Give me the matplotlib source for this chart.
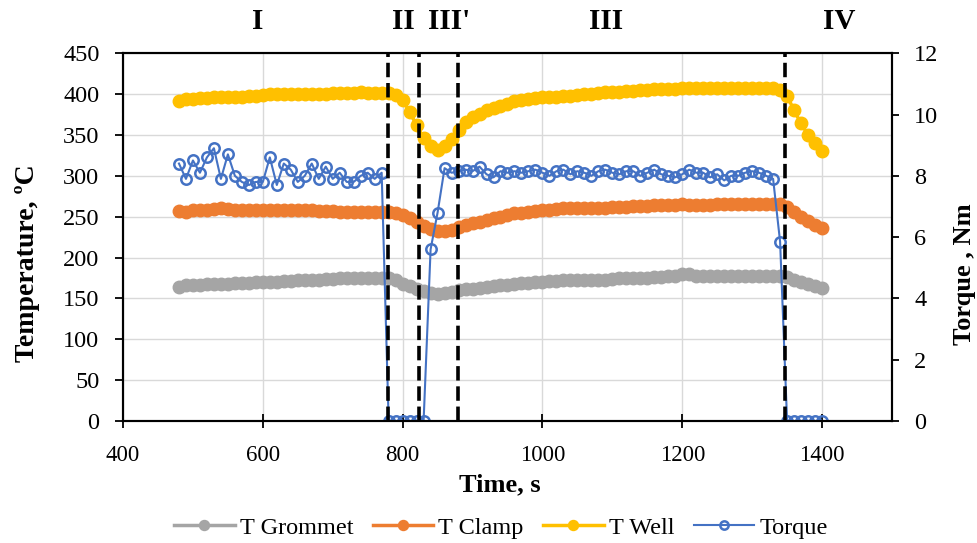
import matplotlib
matplotlib.use("Agg")
import matplotlib.pyplot as plt
import matplotlib.transforms as mtransforms

plt.rcParams['font.family'] = ['Liberation Serif', 'DejaVu Serif']

# sample times, s
time = [480, 490, 500, 510, 520, 530, 540, 550, 560, 570,
        580, 590, 600, 610, 620, 630, 640, 650, 660, 670,
        680, 690, 700, 710, 720, 730, 740, 750, 760, 770,
        780, 790, 800, 810, 820, 830, 840, 850, 860, 870,
        880, 890, 900, 910, 920, 930, 940, 950, 960, 970,
        980, 990, 1000, 1010, 1020, 1030, 1040, 1050, 1060, 1070,
        1080, 1090, 1100, 1110, 1120, 1130, 1140, 1150, 1160, 1170,
        1180, 1190, 1200, 1210, 1220, 1230, 1240, 1250, 1260, 1270,
        1280, 1290, 1300, 1310, 1320, 1330, 1340, 1350, 1360, 1370,
        1380, 1390, 1400]

t_grommet = [164, 166, 167, 167, 168, 168, 168, 168, 169, 169,
             169, 170, 170, 170, 170, 171, 171, 172, 172, 172,
             173, 174, 174, 175, 175, 175, 175, 175, 175, 175,
             175, 172, 168, 165, 162, 159, 157, 155, 156, 158,
             160, 161, 162, 163, 164, 165, 166, 167, 168, 169,
             169, 170, 170, 171, 171, 172, 172, 172, 172, 173,
             173, 173, 174, 175, 175, 175, 175, 175, 176, 176,
             177, 178, 180, 180, 178, 178, 178, 178, 178, 178,
             178, 178, 178, 178, 178, 178, 178, 176, 172, 170,
             168, 165, 163]

t_clamp = [257, 256, 258, 258, 258, 259, 260, 259, 258, 258,
           258, 258, 258, 258, 258, 258, 258, 258, 258, 258,
           257, 257, 257, 256, 256, 256, 256, 256, 256, 256,
           256, 255, 252, 248, 243, 238, 235, 233, 232, 234,
           237, 240, 242, 244, 246, 248, 250, 252, 254, 255,
           256, 257, 258, 258, 259, 260, 260, 261, 261, 261,
           261, 261, 262, 262, 262, 263, 263, 263, 264, 264,
           264, 264, 265, 264, 264, 264, 264, 265, 265, 265,
           265, 265, 265, 265, 265, 265, 265, 262, 256, 250,
           245, 240, 236]

t_well = [392, 394, 394, 395, 395, 396, 397, 397, 397, 397,
          398, 398, 399, 400, 400, 400, 400, 400, 400, 400,
          400, 400, 401, 401, 401, 401, 403, 401, 401, 401,
          401, 399, 393, 378, 362, 346, 336, 331, 336, 345,
          356, 366, 372, 376, 380, 383, 386, 388, 391, 393,
          394, 395, 396, 396, 397, 398, 398, 399, 400, 400,
          401, 402, 403, 403, 404, 404, 405, 405, 406, 406,
          406, 406, 407, 407, 407, 407, 407, 407, 407, 407,
          407, 407, 407, 407, 407, 407, 405, 398, 380, 364,
          350, 340, 330]

torque = [8.4, 7.9, 8.5, 8.1, 8.6, 8.9, 7.9, 8.7, 8.0, 7.8,
          7.7, 7.8, 7.8, 8.6, 7.7, 8.4, 8.2, 7.8, 8.0, 8.4,
          7.9, 8.3, 7.9, 8.1, 7.8, 7.8, 8.0, 8.1, 7.9, 8.1,
          0, 0, 0, 0, 0, 0, 5.6, 6.8, 8.25, 8.1,
          8.15, 8.2, 8.15, 8.3, 8.05, 7.95, 8.15, 8.1, 8.15, 8.1,
          8.15, 8.2, 8.1, 8.0, 8.15, 8.2, 8.05, 8.15, 8.1, 8.0,
          8.15, 8.2, 8.1, 8.05, 8.15, 8.15, 8.0, 8.1, 8.2, 8.05,
          8.0, 7.95, 8.05, 8.2, 8.1, 8.1, 7.95, 8.05, 7.85, 8.0,
          8.0, 8.1, 8.15, 8.1, 8.0, 7.9, 5.85, 0, 0, 0,
          0, 0, 0]

# stage boundaries and labels
stage_lines = [779, 824, 879, 1347]
stage_names = ['I', 'II', "III'", 'III', 'IV']
stage_pos = [593, 801, 867, 1091, 1424]

fig, ax = plt.subplots(figsize=(9.78, 5.43), dpi=100)
fig.subplots_adjust(left=0.1258, right=0.912, top=0.902, bottom=0.2247)
ax2 = ax.twinx()

ax.plot(time, t_grommet, '-o', color='#A5A5A5', lw=2.5, ms=9, label='T Grommet')
ax.plot(time, t_clamp, '-o', color='#ED7D31', lw=2.5, ms=9, label='T Clamp')
ax.plot(time, t_well, '-o', color='#FFC000', lw=2.5, ms=9, label='T Well')
ax2.plot(time, torque, '-o', color='#4472C4', lw=1.5, ms=7.5, mfc='none',
         mew=1.8, label='Torque')

for x in stage_lines:
    ax2.axvline(x, color='black', lw=2.6, dashes=(4, 1.6), zorder=5)

trans = mtransforms.blended_transform_factory(ax.transData, ax.transAxes)
for name, x in zip(stage_names, stage_pos):
    ax.text(x, 1.085, name, transform=trans, ha='center', va='center',
            fontsize=21, fontweight='bold')

ax.set_xlim(400, 1500)
ax.set_ylim(0, 450)
ax2.set_ylim(0, 12)
ax.set_xticks(range(400, 1401, 200))
ax.set_yticks(range(0, 451, 50))
ax2.set_yticks(range(0, 13, 2))

ax.grid(True, color='#D9D9D9', lw=1)
ax.set_axisbelow(True)
for a in (ax, ax2):
    for s in a.spines.values():
        s.set_color('black')
        s.set_linewidth(1.5)
ax.tick_params(axis='x', direction='inout', length=10, width=1.3, labelsize=16.5, pad=12)
ax.tick_params(axis='y', direction='out', length=6, width=1.3, labelsize=17.5, pad=11)
ax2.tick_params(axis='y', direction='out', length=5, width=1.3, labelsize=17.5, pad=11)

ax.set_xlabel('Time, s', fontsize=19, fontweight='bold')
ax.xaxis.set_label_coords(0.49, -0.142)
ax.set_ylabel('Temperature, ºC', fontsize=20, fontweight='bold')
ax.yaxis.set_label_coords(-0.108, 0.43)
ax2.set_ylabel('Torque , Nm', fontsize=19, fontweight='bold', rotation=90)
ax2.yaxis.set_label_coords(1.08, 0.40)

h1, l1 = ax.get_legend_handles_labels()
h2, l2 = ax2.get_legend_handles_labels()
fig.legend(h1 + h2, l1 + l2, loc='center', bbox_to_anchor=(0.512, 0.028),
           ncol=4, frameon=False, fontsize=17.5, handlelength=2.5,
           columnspacing=0.8, handletextpad=0.2, markerscale=0.8)

fig.savefig('out.png', dpi=100)
